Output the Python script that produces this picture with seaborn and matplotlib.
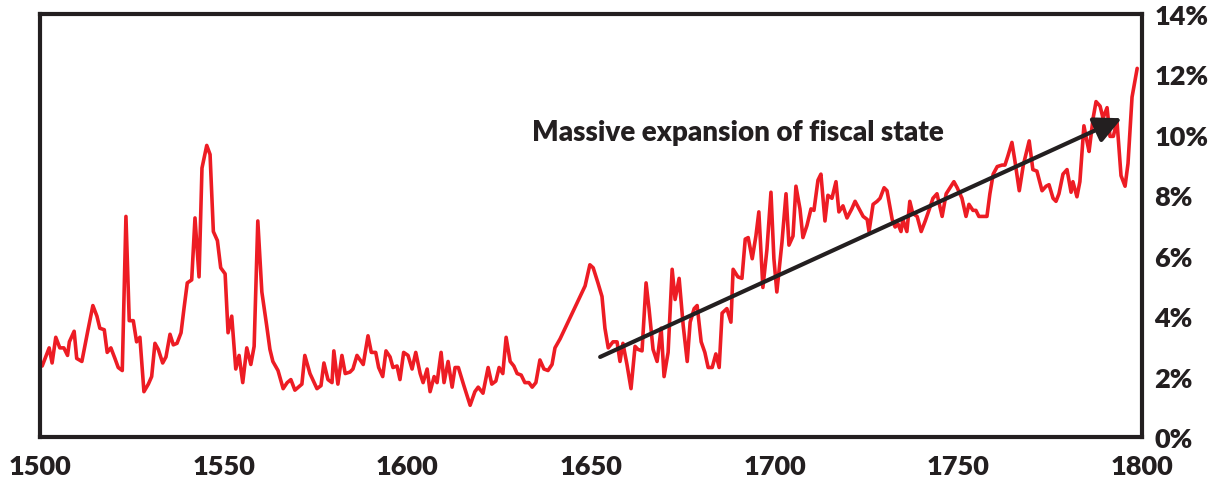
import pandas as pd
import seaborn as sns
import matplotlib.pyplot as plt

# values (year, share in %)
years = [
    1500.6, 1502.5, 1503.3, 1504.3, 1505.4, 1506.5, 1507.5, 1508.0, 1509.3, 1510.0,
    1511.4, 1513.0, 1514.4, 1515.5, 1516.3, 1517.5, 1518.3, 1519.3, 1520.4, 1521.3,
    1522.4, 1523.4, 1524.3, 1525.4, 1526.3, 1527.2, 1528.3, 1529.5, 1530.4, 1531.3,
    1532.2, 1533.4, 1534.3, 1535.4, 1536.3, 1537.3, 1538.4, 1539.2, 1540.1, 1541.3,
    1542.2, 1543.3, 1544.1, 1545.4, 1546.3, 1547.2, 1548.3, 1549.2, 1550.4, 1551.2,
    1552.2, 1553.3, 1554.2, 1555.2, 1556.3, 1557.4, 1558.3, 1559.3, 1560.4, 1561.7,
    1562.6, 1563.4, 1564.8, 1566.2, 1567.3, 1568.3, 1569.4, 1571.3, 1572.1, 1573.5,
    1575.4, 1576.5, 1577.3, 1578.4, 1579.5, 1580.0, 1581.1, 1582.2, 1583.1, 1584.4,
    1585.2, 1586.3, 1588.0, 1589.3, 1590.2, 1591.4, 1592.2, 1593.3, 1594.2, 1595.3,
    1596.1, 1597.2, 1598.0, 1599.0, 1600.2, 1601.3, 1602.3, 1603.5, 1604.3, 1605.4,
    1606.2, 1607.3, 1608.1, 1609.2, 1610.0, 1611.1, 1612.2, 1613.0, 1613.9, 1615.4,
    1617.1, 1618.4, 1619.3, 1620.6, 1622.0, 1623.0, 1624.1, 1625.0, 1626.0, 1626.9,
    1628.0, 1629.0, 1629.9, 1631.0, 1632.0, 1633.1, 1634.0, 1635.0, 1636.1, 1637.2,
    1638.3, 1639.4, 1640.2, 1641.6, 1648.4, 1649.7, 1650.6, 1651.9, 1653.0, 1653.8,
    1654.7, 1656.0, 1657.1, 1657.9, 1658.7, 1659.8, 1660.9, 1662.0, 1662.8, 1663.9,
    1665.0, 1665.8, 1666.9, 1668.0, 1669.1, 1669.9, 1671.0, 1672.1, 1672.9, 1674.0,
    1675.1, 1676.2, 1677.0, 1678.1, 1678.9, 1680.0, 1681.0, 1681.9, 1683.0, 1684.0,
    1684.9, 1685.7, 1687.0, 1688.1, 1688.7, 1690.0, 1691.1, 1692.0, 1692.8, 1693.9,
    1694.9, 1695.7, 1696.8, 1697.9, 1699.0, 1699.8, 1700.6, 1702.0, 1703.1, 1703.9,
    1705.0, 1705.8, 1706.9, 1707.7, 1708.8, 1709.9, 1710.7, 1711.8, 1712.6, 1713.7,
    1714.5, 1715.6, 1716.7, 1717.5, 1718.6, 1719.7, 1721.0, 1721.9, 1723.0, 1724.1,
    1725.2, 1725.7, 1726.8, 1727.9, 1728.7, 1729.8, 1730.6, 1732.0, 1732.8, 1733.6,
    1734.4, 1734.9, 1736.0, 1736.8, 1737.6, 1738.8, 1739.9, 1741.0, 1742.0, 1743.1,
    1744.2, 1745.6, 1746.7, 1748.0, 1748.8, 1749.7, 1751.0, 1752.1, 1752.9, 1754.0,
    1754.8, 1755.6, 1756.7, 1757.8, 1758.6, 1759.5, 1760.6, 1761.9, 1762.7, 1763.5,
    1764.6, 1765.4, 1766.6, 1767.7, 1769.3, 1770.3, 1771.4, 1772.8, 1773.9, 1774.7,
    1775.8, 1776.6, 1777.4, 1778.5, 1779.6, 1780.7, 1781.2, 1782.3, 1783.1, 1784.2,
    1785.0, 1785.6, 1786.7, 1787.5, 1788.6, 1789.4, 1790.5, 1791.3, 1792.2, 1793.2,
    1794.3, 1795.4, 1796.2, 1797.3, 1798.7,
]
share = [
    2.35, 2.95, 2.45, 3.3, 2.95, 2.95, 2.7, 3.15, 3.5, 2.6,
    2.5, 3.5, 4.35, 4.0, 3.6, 3.55, 2.8, 2.95, 2.6, 2.3,
    2.2, 7.3, 3.85, 3.85, 3.15, 3.3, 1.5, 1.75, 2.0, 3.1,
    2.9, 2.45, 2.65, 3.4, 3.05, 3.1, 3.45, 4.25, 5.1, 5.2,
    7.25, 5.3, 8.9, 9.65, 9.35, 6.8, 6.5, 5.6, 5.4, 3.45,
    4.0, 2.25, 2.7, 1.8, 2.95, 2.4, 3.0, 7.15, 4.8, 3.7,
    2.9, 2.5, 2.2, 1.6, 1.8, 1.9, 1.55, 1.75, 2.7, 2.1,
    1.6, 1.7, 2.45, 1.9, 1.8, 2.85, 1.75, 2.7, 2.1, 2.15,
    2.25, 2.7, 2.4, 3.35, 2.8, 2.8, 2.3, 2.0, 2.85, 2.65,
    2.3, 2.35, 1.9, 2.8, 2.7, 2.25, 2.8, 2.1, 1.8, 2.25,
    1.5, 2.0, 1.8, 2.8, 1.8, 2.5, 1.65, 2.3, 2.3, 1.7,
    1.05, 1.5, 1.65, 1.45, 2.3, 1.75, 1.85, 2.3, 2.1, 3.3,
    2.5, 2.35, 2.1, 2.05, 1.8, 1.8, 1.65, 1.8, 2.55, 2.25,
    2.2, 2.4, 2.95, 3.25, 5.0, 5.7, 5.6, 5.1, 4.65, 3.6,
    2.95, 3.15, 3.15, 2.5, 3.1, 2.4, 1.6, 3.0, 2.9, 2.85,
    5.1, 4.25, 2.9, 2.5, 3.6, 2.0, 2.8, 5.55, 4.55, 5.25,
    3.7, 2.5, 3.8, 4.25, 4.35, 3.15, 2.8, 2.3, 2.3, 2.75,
    2.3, 4.1, 4.25, 3.8, 5.55, 5.3, 5.25, 6.55, 6.6, 5.9,
    6.65, 7.45, 4.95, 6.2, 8.1, 5.9, 4.8, 6.45, 8.05, 6.35,
    6.65, 8.3, 7.55, 6.6, 7.0, 7.55, 7.5, 8.5, 8.7, 7.15,
    8.0, 7.9, 8.45, 7.45, 7.65, 7.25, 7.55, 7.8, 7.55, 7.3,
    7.2, 6.8, 7.7, 7.8, 7.9, 8.25, 8.15, 7.2, 6.95, 7.05,
    6.8, 7.2, 6.8, 7.8, 7.4, 7.3, 6.8, 7.15, 7.5, 7.9,
    8.05, 7.3, 8.05, 8.3, 8.45, 8.25, 7.9, 7.3, 7.7, 7.5,
    7.5, 7.3, 7.3, 7.3, 8.05, 8.7, 8.95, 9.0, 9.0, 9.3,
    9.75, 9.15, 8.15, 9.0, 9.8, 8.85, 8.8, 8.15, 8.3, 8.35,
    7.9, 7.8, 8.05, 8.7, 8.85, 8.1, 8.45, 7.95, 8.45, 10.3,
    9.8, 9.45, 10.55, 11.1, 10.95, 10.55, 10.9, 9.95, 9.95, 10.45,
    8.65, 8.3, 9.05, 11.25, 12.2,
]

x_ticks = [1500, 1550, 1600, 1650, 1700, 1750, 1800]
y_ticks = [0, 2, 4, 6, 8, 10, 12, 14]
note = "Massive expansion of fiscal state"
arrow_start = (1652.5, 2.65)
arrow_end = (1794.5, 10.55)

ink = "#231f20"
red = "#ed1c24"

sns.set_style("white")
plt.rcParams["font.family"] = ["Lato", "DejaVu Sans"]
plt.rcParams["font.weight"] = "bold"

df = pd.DataFrame({"year": years, "share": share})

fig = plt.figure(figsize=(12.19, 4.85), dpi=100)
ax = fig.add_axes([0.0328, 0.0969, 0.9040, 0.8722])

sns.lineplot(data=df, x="year", y="share", ax=ax, color=red, linewidth=2.6,
             estimator=None, sort=False)

ax.set_xlim(1500, 1800)
ax.set_ylim(0, 14)
ax.set_xlabel("")
ax.set_ylabel("")

ax.set_xticks(x_ticks)
ax.set_xticklabels([str(t) for t in x_ticks])
ax.set_yticks(y_ticks)
ax.set_yticklabels([f"{t}%" for t in y_ticks])
ax.yaxis.tick_right()
ax.tick_params(axis="both", length=0, labelsize=19.5, colors=ink)
ax.tick_params(axis="x", pad=12)
ax.tick_params(axis="y", pad=9)
for lab in ax.get_xticklabels() + ax.get_yticklabels():
    lab.set_fontweight("heavy")

for side in ["left", "right", "top", "bottom"]:
    ax.spines[side].set_visible(True)
    ax.spines[side].set_color(ink)
    ax.spines[side].set_linewidth(3)

ax.text(1634, 10.1, note, ha="left", va="center", fontsize=20,
        fontweight="heavy", color=ink)
ax.annotate("", xy=arrow_end, xytext=arrow_start,
            arrowprops=dict(arrowstyle="-|>,head_length=0.55,head_width=0.27",
                            mutation_scale=30, lw=3, color=ink,
                            shrinkA=0, shrinkB=0))

fig.savefig("out.png", dpi=100)
